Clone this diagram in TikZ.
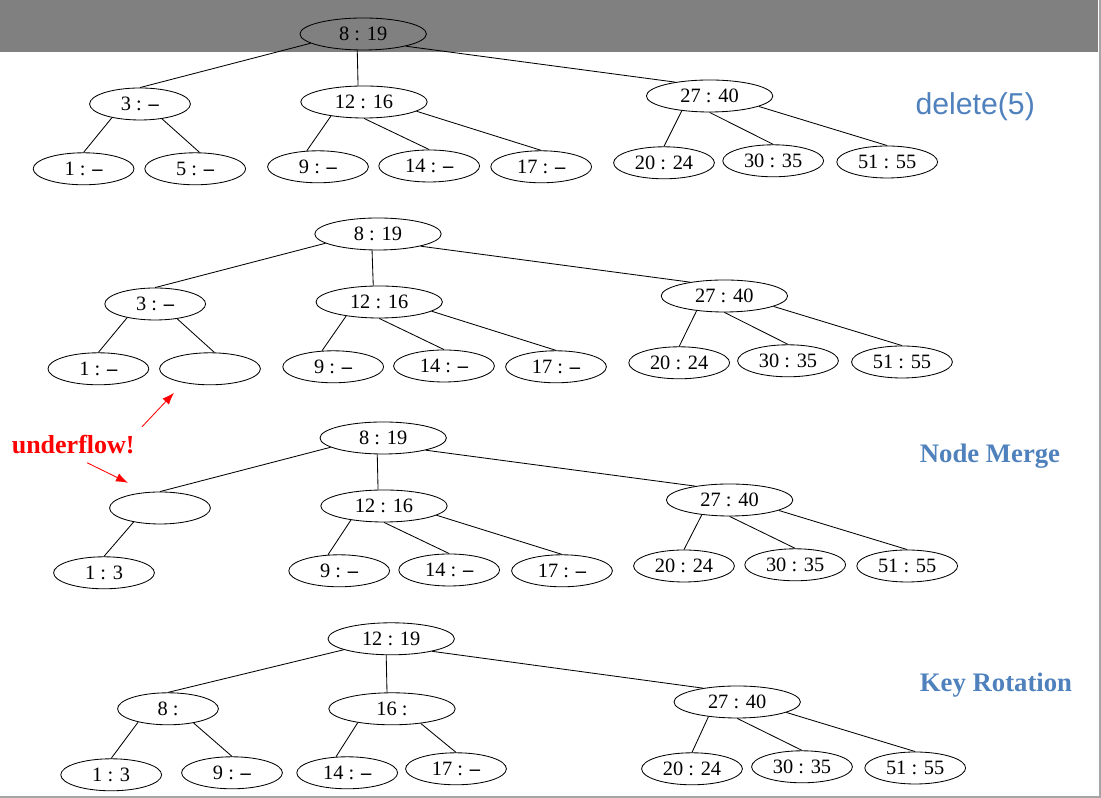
\documentclass[tikz,border=0pt]{standalone}
\usepackage{fontspec}
\setmainfont{Liberation Serif}
\newfontfamily\labelsans{Liberation Sans}
\usetikzlibrary{positioning}
\usetikzlibrary{arrows.meta,shapes.geometric}
\definecolor{titleblue}{RGB}{79,129,189}
\definecolor{bandgray}{RGB}{128,128,128}
\definecolor{framegray}{RGB}{165,165,165}
\newcommand{\nokey}{\textbf{--}}

\begin{document}
\begin{tikzpicture}[semithick]
\tikzstyle{key}=[ellipse,draw,inner sep=0pt,minimum width=2.52cm,minimum height=0.8cm,font=\fontsize{14.5}{16}\selectfont]
\tikzstyle{wide key}=[key,minimum width=3.16cm]
\tikzstyle{step title}=[text=titleblue,font=\fontsize{19}{22}\selectfont\bfseries]

\useasboundingbox (0,0) rectangle (27.525,19.95);
\fill[bandgray] (0,18.65) rectangle (27.45,19.95);
\draw[framegray, line width=0.05cm] (0,0.03) -- (27.49,0.03) -- (27.49,19.95);

% before delete(5)
\node[wide key] (rootA) at (9.08,19.1) {8 : 19};
\node[key] (leftA) at (3.5,17.35) {3 : \nokey};
\node[wide key] (midA) at (9.1,17.4) {12 : 16};
\node[wide key] (rightA) at (17.74,17.55) {27 : 40};
\node[key] (oneA) at (2.09,15.73) {1 : \nokey};
\node[key] (fiveA) at (4.88,15.73) {5 : \nokey};
\node[key] (nineA) at (7.95,15.78) {9 : \nokey};
\node[key] (fourteenA) at (10.73,15.8) {14 : \nokey};
\node[key] (seventeenA) at (13.53,15.78) {17 : \nokey};
\node[key] (twentyA) at (16.6,15.88) {20 : 24};
\node[key] (thirtyA) at (19.33,15.93) {30 : 35};
\node[key] (fiftyoneA) at (22.18,15.9) {51 : 55};

\draw (rootA.190) -- (leftA.north);
\draw (rootA.250) -- (midA.110);
\draw (rootA.344) -- (rightA.158);
\draw (leftA.206) -- (oneA.north);
\draw (leftA.326) -- (fiveA.75);
\draw (midA.203) -- (nineA.125);
\draw (midA.south) -- (fourteenA.north);
\draw (midA.350) -- (seventeenA.north);
\draw (rightA.208) -- (twentyA.north);
\draw (rightA.south) -- (thirtyA.north);
\draw (rightA.348) -- (fiftyoneA.north);


% leaf emptied
\node[wide key] (rootB) at (9.45,14.1) {8 : 19};
\node[key] (leftB) at (3.88,12.35) {3 : \nokey};
\node[wide key] (midB) at (9.48,12.4) {12 : 16};
\node[wide key] (rightB) at (18.11,12.55) {27 : 40};
\node[key] (oneB) at (2.46,10.73) {1 : \nokey};
\node[key] (emptyB) at (5.25,10.73) {};
\node[key] (nineB) at (8.33,10.78) {9 : \nokey};
\node[key] (fourteenB) at (11.1,10.8) {14 : \nokey};
\node[key] (seventeenB) at (13.9,10.78) {17 : \nokey};
\node[key] (twentyB) at (16.98,10.88) {20 : 24};
\node[key] (thirtyB) at (19.7,10.93) {30 : 35};
\node[key] (fiftyoneB) at (22.55,10.9) {51 : 55};

\draw (rootB.190) -- (leftB.north);
\draw (rootB.250) -- (midB.110);
\draw (rootB.344) -- (rightB.158);
\draw (leftB.206) -- (oneB.north);
\draw (leftB.326) -- (emptyB.75);
\draw (midB.203) -- (nineB.125);
\draw (midB.south) -- (fourteenB.north);
\draw (midB.350) -- (seventeenB.north);
\draw (rightB.208) -- (twentyB.north);
\draw (rightB.south) -- (thirtyB.north);
\draw (rightB.348) -- (fiftyoneB.north);


% node merge
\node[wide key] (rootC) at (9.58,9.0) {8 : 19};
\node[key] (leftC) at (4.0,7.25) {};
\node[wide key] (midC) at (9.6,7.3) {12 : 16};
\node[wide key] (rightC) at (18.24,7.45) {27 : 40};
\node[key] (oneThreeC) at (2.6,5.63) {1 : 3};
\node[key] (nineC) at (8.48,5.68) {9 : \nokey};
\node[key] (fourteenC) at (11.23,5.7) {14 : \nokey};
\node[key] (seventeenC) at (14.05,5.68) {17 : \nokey};
\node[key] (twentyC) at (17.1,5.8) {20 : 24};
\node[key] (thirtyC) at (19.88,5.83) {30 : 35};
\node[key] (fiftyoneC) at (22.68,5.8) {51 : 55};

\draw (rootC.190) -- (leftC.north);
\draw (rootC.250) -- (midC.110);
\draw (rootC.344) -- (rightC.158);
\draw (leftC.208) -- (oneThreeC.north);
\draw (midC.203) -- (nineC.125);
\draw (midC.south) -- (fourteenC.north);
\draw (midC.350) -- (seventeenC.north);
\draw (rightC.208) -- (twentyC.north);
\draw (rightC.south) -- (thirtyC.north);
\draw (rightC.348) -- (fiftyoneC.north);


% key rotation
\node[wide key] (rootD) at (9.78,3.98) {12 : 19};
\node[key] (eightD) at (4.2,2.23) {8 :};
\node[wide key] (sixteenD) at (9.8,2.23) {16 :};
\node[wide key] (rightD) at (18.43,2.4) {27 : 40};
\node[key] (oneThreeD) at (2.78,0.58) {1 : 3};
\node[key] (nineD) at (5.8,0.63) {9 : \nokey};
\node[key] (fourteenD) at (8.68,0.63) {14 : \nokey};
\node[key] (seventeenD) at (11.4,0.73) {17 : \nokey};
\node[key] (twentyD) at (17.3,0.73) {20 : 24};
\node[key] (thirtyD) at (20.05,0.78) {30 : 35};
\node[key] (fiftyoneD) at (22.88,0.75) {51 : 55};

\draw (rootD.193) -- (eightD.north);
\draw (rootD.253) -- (sixteenD.107);
\draw (rootD.343) -- (rightD.158);
\draw (eightD.204) -- (oneThreeD.north);
\draw (eightD.331) -- (nineD.north);
\draw (sixteenD.202) -- (fourteenD.125);
\draw (sixteenD.333) -- (seventeenD.north);
\draw (rightD.207) -- (twentyD.north);
\draw (rightD.south) -- (thirtyD.north);
\draw (rightD.348) -- (fiftyoneD.north);


\node[text=titleblue, font=\labelsans\fontsize{21.5}{24}\selectfont] (deleteLbl) at (24.38,17.28) {delete(5)};
\node[step title] (mergeLbl) at (24.75,8.55) {Node Merge};
\node[step title] (rotationLbl) at (24.9,2.83) {Key Rotation};
\node[text=red, font=\fontsize{18.5}{22}\selectfont\bfseries] (underflowLbl) at (1.83,8.83) {underflow!};

\coordinate (upTail) at (3.55,9.28);
\coordinate (upTip) at (4.35,10.13);
\coordinate (downTail) at (2.18,8.38);
\coordinate (downTip) at (3.2,7.88);
\draw[red, -{Latex[length=3mm,width=2.2mm]}] (upTail) -- (upTip);
\draw[red, -{Latex[length=3mm,width=2.2mm]}] (downTail) -- (downTip);
\end{tikzpicture}
\end{document}
